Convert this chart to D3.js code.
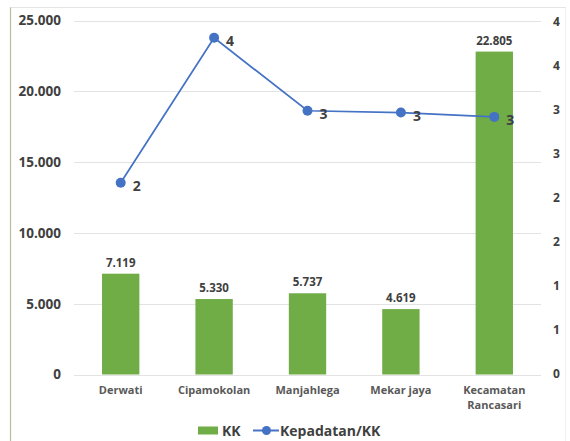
<!DOCTYPE html>
<html>
<head>
<meta charset="utf-8">
<script src="https://cdn.jsdelivr.net/npm/d3@7"></script>
<style>
  html, body { margin: 0; padding: 0; background: #fff; }
  svg { display: block; }
  text { font-family: "Open Sans", "Noto Sans", sans-serif; font-weight: 700; }
</style>
</head>
<body>
<svg id="chart" width="570" height="441"></svg>
<script>
// Households (KK) per village and density per household
const categories = ["Derwati", "Cipamokolan", "Manjahlega", "Mekar jaya", "Kecamatan Rancasari"];
const kkValues = [7119, 5330, 5737, 4619, 22805];
const densityValues = [2.17, 3.82, 2.99, 2.97, 2.92];
const leftTicks = [0, 5000, 10000, 15000, 20000, 25000];
const rightTicks = [0, 0.5, 1, 1.5, 2, 2.5, 3, 3.5, 4];
const seriesNames = ["KK", "Kepadatan/KK"];

const svg = d3.select("#chart");
const plot = { left: 74, right: 541, top: 20.5, bottom: 374.5 };

const barColor = "#70AD47";
const lineColor = "#4472C4";
const textColor = "#404040";

// Outer frame
svg.append("line").attr("x1", 10.5).attr("x2", 10.5).attr("y1", 7).attr("y2", 441)
  .attr("stroke", "#b3bf98").attr("stroke-width", 1.2);
svg.append("line").attr("x1", 10.5).attr("x2", 565.5).attr("y1", 7.5).attr("y2", 7.5)
  .attr("stroke", "#e4e4e4").attr("stroke-width", 1);
svg.append("line").attr("x1", 565.5).attr("x2", 565.5).attr("y1", 7.5).attr("y2", 441)
  .attr("stroke", "#e0e0e0").attr("stroke-width", 1).attr("stroke-dasharray", "1,1");

const x = d3.scaleBand().domain(categories).range([plot.left, plot.right]).paddingInner(0.6).paddingOuter(0.3);
const xc = d3.scaleBand().domain(categories).range([plot.left, plot.right]);
const yL = d3.scaleLinear().domain([0, 25000]).range([plot.bottom, plot.top]);
const yR = d3.scaleLinear().domain([0, 4]).range([plot.bottom - 1, plot.top + 1.5]);

const fmtThousands = d3.formatLocale({ decimal: ",", thousands: ".", grouping: [3] }).format(",d");

// Gridlines
svg.append("g").selectAll("line").data(leftTicks).join("line")
  .attr("x1", plot.left).attr("x2", plot.right)
  .attr("y1", d => Math.round(yL(d)) + 0.5).attr("y2", d => Math.round(yL(d)) + 0.5)
  .attr("stroke", "#e3e3e3").attr("stroke-width", 1);

// Left axis
const leftAxis = d3.axisLeft(yL).tickValues(leftTicks).tickSize(0).tickPadding(0)
  .tickFormat(d => d === 0 ? "0" : fmtThousands(d));
const gL = svg.append("g").attr("transform", `translate(61,0)`).call(leftAxis);
gL.select(".domain").remove();
gL.selectAll("text").attr("fill", textColor).attr("font-size", 13.5)
  .attr("font-family", "\"Open Sans\", sans-serif").attr("font-weight", 700);

// Right axis
const rightAxis = d3.axisRight(yR).tickValues(rightTicks).tickSize(0).tickPadding(0)
  .tickFormat(d => String(Math.round(d)));
const gR = svg.append("g").attr("transform", `translate(553,0)`).call(rightAxis);
gR.select(".domain").remove();
gR.selectAll("text").attr("fill", textColor).attr("font-size", 12)
  .attr("font-family", "\"Open Sans\", sans-serif").attr("font-weight", 700);

// Category axis
const gX = svg.append("g").attr("transform", `translate(0,${plot.bottom})`)
  .call(d3.axisBottom(xc).tickSize(0).tickPadding(0).tickFormat(""));
gX.select(".domain").remove();
gX.selectAll(".tick").each(function(d) {
  const words = d === "Kecamatan Rancasari" ? ["Kecamatan", "Rancasari"] : [d];
  const t = d3.select(this).append("text").attr("fill", "#595959").attr("font-size", 11)
    .attr("text-anchor", "middle");
  words.forEach((w, i) => t.append("tspan").attr("x", 0).attr("y", 19.5 + i * 14.5).text(w));
});

// Bars
svg.append("g").selectAll("rect").data(categories).join("rect")
  .attr("x", (d) => x(d)).attr("width", x.bandwidth())
  .attr("y", (d, i) => yL(kkValues[i]))
  .attr("height", (d, i) => yL(0) - yL(kkValues[i]))
  .attr("fill", barColor);

// Bar value labels
svg.append("g").selectAll("text").data(categories).join("text")
  .attr("x", d => x(d) + x.bandwidth() / 2)
  .attr("y", (d, i) => yL(kkValues[i]) - 7)
  .attr("text-anchor", "middle").attr("font-size", 11.5).attr("fill", textColor)
  .text((d, i) => fmtThousands(kkValues[i]));

// Density line
const pts = categories.map((c, i) => [xc(c) + xc.bandwidth() / 2, yR(densityValues[i])]);
svg.append("path").attr("d", d3.line()(pts)).attr("fill", "none")
  .attr("stroke", lineColor).attr("stroke-width", 1.75);
svg.append("g").selectAll("circle").data(pts).join("circle")
  .attr("cx", d => d[0]).attr("cy", d => d[1]).attr("r", 5).attr("fill", lineColor);
svg.append("g").selectAll("text").data(pts).join("text")
  .attr("x", d => d[0] + 12).attr("y", d => d[1] + 8)
  .attr("font-size", 14).attr("fill", textColor)
  .text((d, i) => Math.round(densityValues[i]));

// Legend
const lg = svg.append("g");
lg.append("rect").attr("x", 198).attr("y", 426.5).attr("width", 20).attr("height", 8).attr("fill", barColor);
lg.append("text").attr("x", 222).attr("y", 436).attr("font-size", 14).attr("fill", textColor).text(seriesNames[0]);
lg.append("line").attr("x1", 253).attr("x2", 279).attr("y1", 430.5).attr("y2", 430.5)
  .attr("stroke", lineColor).attr("stroke-width", 2);
lg.append("circle").attr("cx", 266.5).attr("cy", 430.5).attr("r", 4.5).attr("fill", lineColor);
lg.append("text").attr("x", 280).attr("y", 436).attr("font-size", 14).attr("fill", textColor).text(seriesNames[1]);
</script>
</body>
</html>
